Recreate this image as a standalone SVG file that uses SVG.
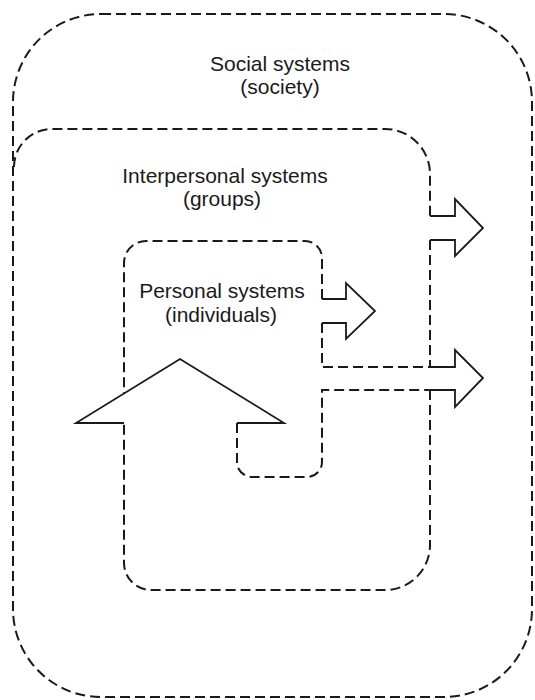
<svg xmlns="http://www.w3.org/2000/svg" width="535" height="700" viewBox="0 0 535 700">
<style>
.bg{fill:#fff}
.dash{fill:none;stroke:#1a1a1a;stroke-width:2;stroke-dasharray:10 5;stroke-linejoin:miter}
.solid{fill:none;stroke:#1a1a1a;stroke-width:1.8;stroke-linejoin:miter}
.lbl{font-family:"Liberation Sans",Arial,Helvetica,sans-serif;font-size:21px;fill:#1a1a1a;text-anchor:middle}
</style>
<rect class="bg" x="0" y="0" width="535" height="700"/>
<g id="social">
<rect class="dash" x="13" y="14" width="519" height="683" rx="88" ry="88"/>
<text class="lbl" x="280" y="71">Social systems</text>
<text class="lbl" x="280" y="94">(society)</text>
</g>
<g id="interpersonal">
<path class="dash" d="M14,167 A38,38 0 0 1 52,129 L385,129 A45,45 0 0 1 430,174 L430,216"/>
<path class="dash" d="M430,240 L430,367"/>
<path class="dash" d="M430,390 L430,545 A45,45 0 0 1 385,590 L151,590 A27,27 0 0 1 124,563 L124,423"/>
<text class="lbl" x="225" y="183">Interpersonal systems</text>
<text class="lbl" x="222" y="206">(groups)</text>
</g>
<g id="personal">
<path class="dash" d="M322,299 L322,258 A17,17 0 0 0 305,241 L146,241 A22,22 0 0 0 124,263 L124,394"/>
<path class="dash" d="M237,423 L237,462 A15,15 0 0 0 252,477 L307,477 A15,15 0 0 0 322,462 L322,390 L430,390"/>
<path class="dash" d="M322,323 L322,367 L430,367"/>
<text class="lbl" x="222" y="298">Personal systems</text>
<text class="lbl" x="221" y="322">(individuals)</text>
</g>
<g id="connectors">
<path class="solid" d="M124,423 L76,423 L180,359 L284,423 L237,423"/>
<path class="solid" d="M322,299 L346,299 L346,283 L375,311 L346,339 L346,323 L322,323"/>
<path class="solid" d="M430,216 L455,216 L455,199 L483,228 L455,256 L455,240 L430,240"/>
<path class="solid" d="M430,367 L455,367 L455,350 L483,378 L455,407 L455,390 L430,390"/>
</g>
</svg>
